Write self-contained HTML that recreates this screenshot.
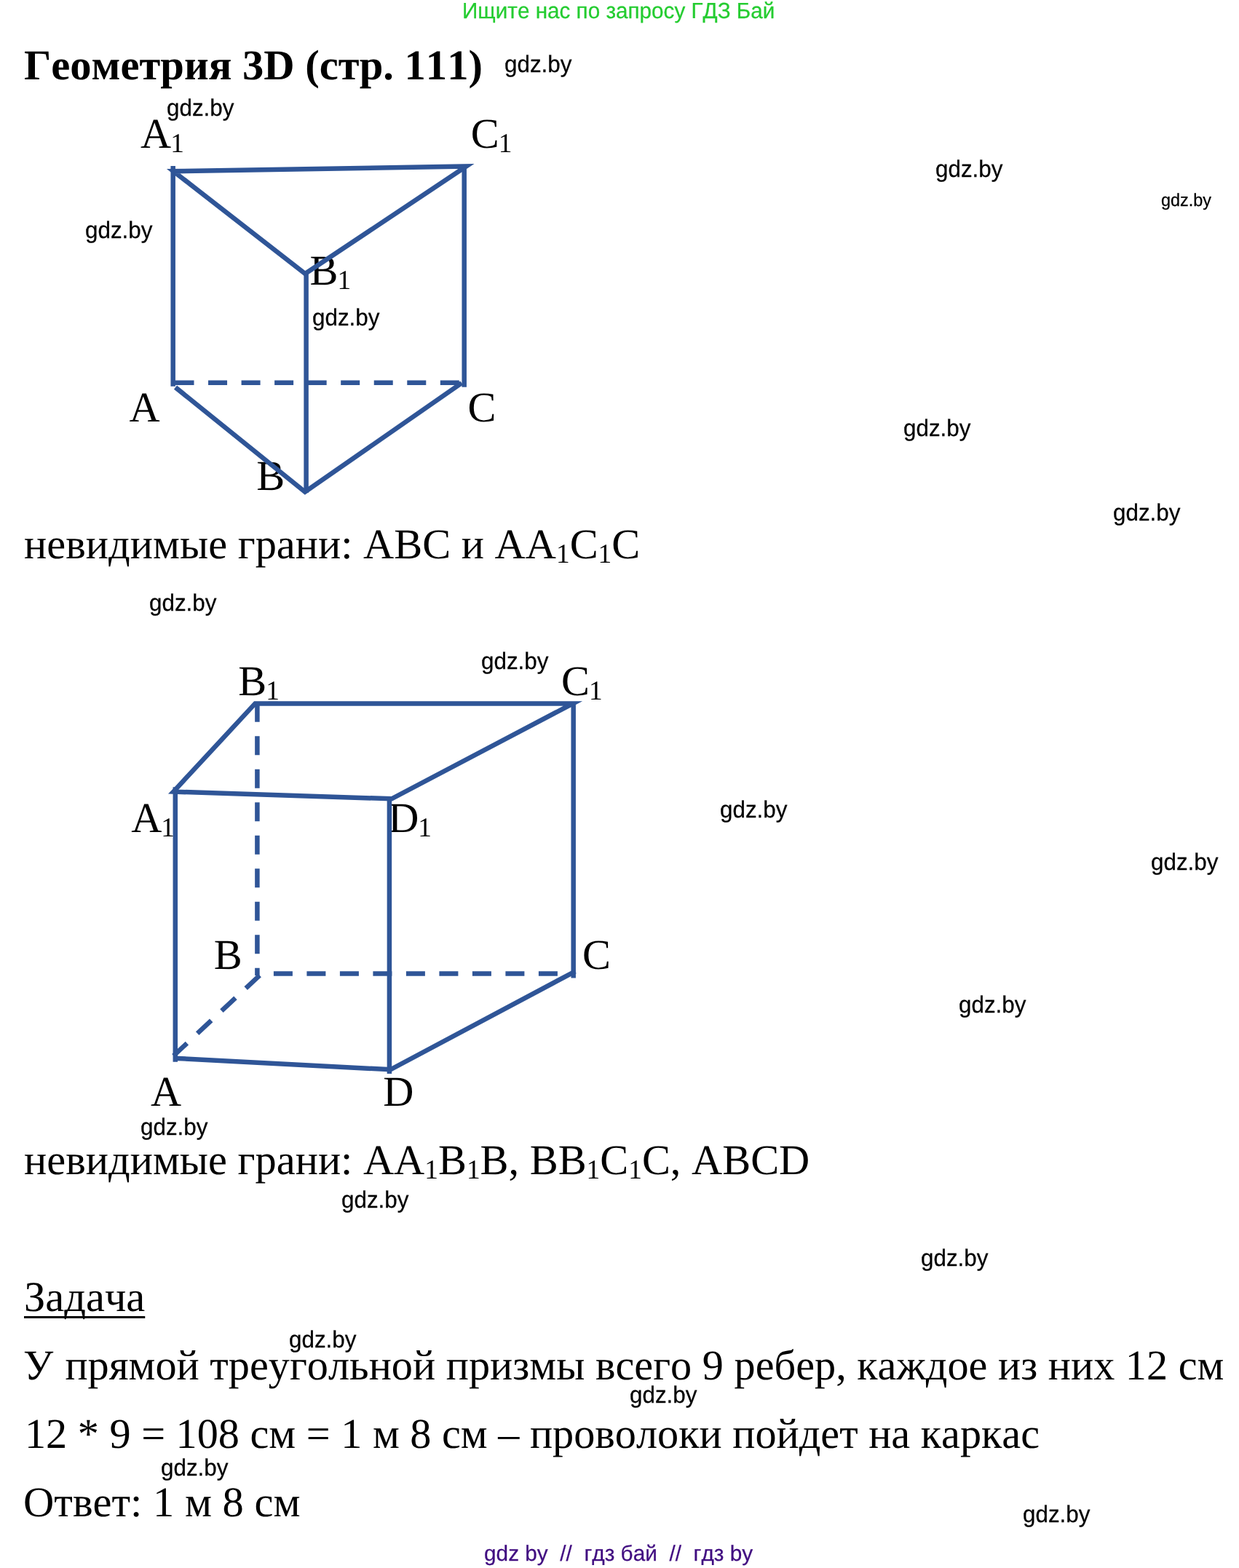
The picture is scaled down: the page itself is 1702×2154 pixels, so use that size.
<!DOCTYPE html>
<html lang="ru">
<head>
<meta charset="utf-8">
<title>Геометрия 3D (стр. 111)</title>
<style>
html,body{margin:0;padding:0;background:#fff;overflow:hidden;}
body{width:1702px;height:2154px;position:relative;overflow:hidden;}
#page{position:absolute;left:0;top:0;width:1702px;height:2154px;overflow:hidden;will-change:transform;}
.t{font-kerning:none;font-variant-ligatures:none;text-rendering:geometricPrecision;position:absolute;white-space:nowrap;line-height:0;height:0;transform-origin:0 0;margin:0;padding:0;font-weight:normal;color:#000;}
.s{font-family:"Liberation Serif",serif;}
.a{font-family:"Liberation Sans",sans-serif;-webkit-text-stroke:0.25px currentColor;}
.b{font-weight:bold;}
sub{font-size:64%;vertical-align:baseline;position:relative;top:0.16em;line-height:0;}
u{text-decoration:underline;text-decoration-skip-ink:none;text-decoration-thickness:3.1px;text-underline-offset:6.5px;}
.lb sub{margin-left:-1px;}
svg{position:absolute;left:0;top:0;}
</style>
</head>
<body>
<div id="page">
<div id="hdr" class="t a" style="left:634.96px;top:15px;font-size:30.5px;color:#24cc30;transform:scaleX(0.9728);">Ищите нас по запросу ГДЗ Бай</div>
<div id="title" class="t s b" style="left:33.00px;top:90px;font-size:58.33px;transform:scaleX(1.0048);">Геометрия 3D (стр. 111)</div>
<div id="wm0" class="t a" style="left:692.99px;top:88px;font-size:32.5px;transform:scaleX(0.9657);">gdz.by</div>
<div id="wm1" class="t a" style="left:229.29px;top:148px;font-size:32.5px;transform:scaleX(0.9657);">gdz.by</div>
<div id="wm2" class="t a" style="left:1285.09px;top:232px;font-size:32.5px;transform:scaleX(0.9657);">gdz.by</div>
<div id="wm3" class="t a" style="left:117.19px;top:316px;font-size:32.5px;transform:scaleX(0.9657);">gdz.by</div>
<div id="wm4" class="t a" style="left:428.99px;top:436px;font-size:32.5px;transform:scaleX(0.9657);">gdz.by</div>
<div id="wm5" class="t a" style="left:1240.99px;top:588px;font-size:32.5px;transform:scaleX(0.9657);">gdz.by</div>
<div id="wm6" class="t a" style="left:1528.99px;top:704px;font-size:32.5px;transform:scaleX(0.9657);">gdz.by</div>
<div id="wm7" class="t a" style="left:204.99px;top:828px;font-size:32.5px;transform:scaleX(0.9657);">gdz.by</div>
<div id="wm8" class="t a" style="left:661.09px;top:908px;font-size:32.5px;transform:scaleX(0.9657);">gdz.by</div>
<div id="wm9" class="t a" style="left:988.99px;top:1112px;font-size:32.5px;transform:scaleX(0.9657);">gdz.by</div>
<div id="wm10" class="t a" style="left:1581.29px;top:1184px;font-size:32.5px;transform:scaleX(0.9657);">gdz.by</div>
<div id="wm11" class="t a" style="left:1316.99px;top:1380px;font-size:32.5px;transform:scaleX(0.9657);">gdz.by</div>
<div id="wm12" class="t a" style="left:192.99px;top:1548px;font-size:32.5px;transform:scaleX(0.9657);">gdz.by</div>
<div id="wm13" class="t a" style="left:468.99px;top:1648px;font-size:32.5px;transform:scaleX(0.9657);">gdz.by</div>
<div id="wm14" class="t a" style="left:1264.99px;top:1728px;font-size:32.5px;transform:scaleX(0.9657);">gdz.by</div>
<div id="wm15" class="t a" style="left:396.99px;top:1840px;font-size:32.5px;transform:scaleX(0.9657);">gdz.by</div>
<div id="wm16" class="t a" style="left:865.09px;top:1916px;font-size:32.5px;transform:scaleX(0.9657);">gdz.by</div>
<div id="wm17" class="t a" style="left:220.99px;top:2016px;font-size:32.5px;transform:scaleX(0.9657);">gdz.by</div>
<div id="wm18" class="t a" style="left:1404.99px;top:2080px;font-size:32.5px;transform:scaleX(0.9657);">gdz.by</div>
<div id="wms" class="t a" style="left:1594.89px;top:276px;font-size:24.5px;transform:scaleX(0.9572);">gdz.by</div>
<div id="l1" class="t s" style="left:33.00px;top:748px;font-size:58.33px;transform:scaleX(1.0012);">невидимые грани: ABC и AA<sub>1</sub>C<sub>1</sub>C</div>
<div id="l2" class="t s" style="left:32.95px;top:1594px;font-size:58.33px;transform:scaleX(1.0009);">невидимые грани: AA<sub>1</sub>B<sub>1</sub>B, BB<sub>1</sub>C<sub>1</sub>C, ABCD</div>
<div id="l3" class="t s" style="left:32.65px;top:1782px;font-size:58.33px;transform:scaleX(1.0021);"><u>Задача</u></div>
<div id="l4" class="t s" style="left:31.55px;top:1876px;font-size:58.33px;transform:scaleX(0.9992);"><span style="margin-right:1.6px">У</span> прямой треугольной призмы всего 9 ребер, каждое из них 12 см</div>
<div id="l5" class="t s" style="left:34.31px;top:1970px;font-size:58.33px;transform:scaleX(0.9986);">12 * 9 = 108 см = 1 м 8 см – проволоки пойдет на каркас</div>
<div id="l6" class="t s" style="left:31.84px;top:2064px;font-size:58.33px;transform:scaleX(1.0039);">Ответ: 1 м 8 см</div>
<div id="ftr" class="t a" style="left:665.16px;top:2135px;font-size:30px;color:#400c80;transform:scaleX(0.9929);">gdz by&nbsp; //&nbsp; гдз бай&nbsp; //&nbsp; гдз by</div>
<div id="d1A1" class="t s lb" style="left:193.00px;top:184px;font-size:58.33px;">A<sub>1</sub></div>
<div id="d1C1" class="t s lb" style="left:646.85px;top:184px;font-size:58.33px;">C<sub>1</sub></div>
<div id="d1B1" class="t s lb" style="left:425.60px;top:372px;font-size:58.33px;">B<sub>1</sub></div>
<div id="d1A" class="t s lb" style="left:177.60px;top:560px;font-size:58.33px;">A</div>
<div id="d1C" class="t s lb" style="left:642.55px;top:560px;font-size:58.33px;">C</div>
<div id="d1B" class="t s lb" style="left:352.25px;top:654px;font-size:58.33px;">B</div>
<div id="d2B1" class="t s lb" style="left:327.30px;top:936px;font-size:58.33px;">B<sub>1</sub></div>
<div id="d2C1" class="t s lb" style="left:771.00px;top:936px;font-size:58.33px;">C<sub>1</sub></div>
<div id="d2A1" class="t s lb" style="left:180.15px;top:1124px;font-size:58.33px;">A<sub>1</sub></div>
<div id="d2D1" class="t s lb" style="left:533.15px;top:1124px;font-size:58.33px;">D<sub>1</sub></div>
<div id="d2B" class="t s lb" style="left:293.65px;top:1312px;font-size:58.33px;">B</div>
<div id="d2C" class="t s lb" style="left:800.00px;top:1312px;font-size:58.33px;">C</div>
<div id="d2A" class="t s lb" style="left:207.00px;top:1500px;font-size:58.33px;">A</div>
<div id="d2D" class="t s lb" style="left:526.30px;top:1500px;font-size:58.33px;">D</div>
<svg width="1702" height="2154" viewBox="0 0 1702 2154" fill="none" stroke="#2f5597" stroke-width="6.5" stroke-linecap="butt" stroke-linejoin="miter" stroke-miterlimit="10">
<g id="prism3">
<line x1="237.7" y1="228.1" x2="237.7" y2="530.8"/>
<line x1="420.6" y1="374" x2="420.6" y2="677"/>
<line x1="637.7" y1="228" x2="637.7" y2="531.7"/>
<polygon points="238.2,235.2 419.2,376 640.5,228.5"/>
<polyline points="241,532.1 419,675.7 634.2,526.2"/>
<line x1="240.5" y1="525.8" x2="636" y2="525.8" stroke-dasharray="26 19.54"/>
</g>
<g id="prism4">
<line x1="240.8" y1="1081.3" x2="240.8" y2="1458.8"/>
<line x1="534.9" y1="1094" x2="534.9" y2="1475"/>
<line x1="787.7" y1="965" x2="787.7" y2="1343.6"/>
<polygon points="238.2,1087.6 350.5,966.4 787,966.4 538.1,1097.3"/>
<polyline points="239,1453.7 536.5,1469.3 790.2,1334.3"/>
<line x1="353.4" y1="965.8" x2="353.4" y2="1340" stroke-dasharray="26 19.5"/>
<line x1="375.9" y1="1337.5" x2="790" y2="1337.5" stroke-dasharray="26 19.5"/>
<line x1="356.7" y1="1339.9" x2="238.4" y2="1450.3" stroke-dasharray="26 19.5"/>
</g>
</svg>
</div>
</body>
</html>
